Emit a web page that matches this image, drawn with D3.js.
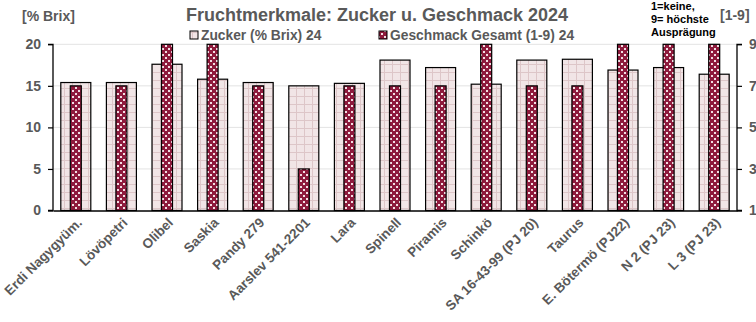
<!DOCTYPE html>
<html><head><meta charset="utf-8">
<script src="https://cdn.jsdelivr.net/npm/d3@7"></script>
<style>body{margin:0;background:#fff}svg{display:block;font-family:"Liberation Sans",Arial,sans-serif}</style>
</head><body>
<svg id="c" width="756" height="322"></svg>
<script>
const categories = ["Erdi Nagygyüm.","Lövöpetri","Olibel","Saskia","Pandy 279","Aarslev 541-2201","Lara","Spinell","Piramis","Schinkö","SA 16-43-99 (PJ 20)","Taurus","E. Bötermö (PJ22)","N 2 (PJ 23)","L 3 (PJ 23)"];
const zucker = [15.4,15.4,17.6,15.8,15.4,15.0,15.3,18.1,17.2,15.2,18.1,18.2,16.9,17.2,16.4];
const geschmack = [7,7,9,9,7,3,7,7,7,9,7,7,9,9,9];
const leftTicks = [0,5,10,15,20];
const rightTicks = [1,3,5,7,9];
const seriesNames = ["Zucker (% Brix) 24","Geschmack Gesamt (1-9) 24"];

const svg = d3.select("#c");
const m = {l:53, r:737, t:44.3, b:210.5};
const gray = "#595959";

const defs = svg.append("defs");
const p1 = defs.append("pattern").attr("id","pz").attr("patternUnits","userSpaceOnUse").attr("width",8).attr("height",8);
p1.append("rect").attr("width",8).attr("height",8).attr("fill","#f1e5e6");
p1.append("path").attr("d","M0,0.5H8M0.5,0V8").attr("stroke","#ddc6c8").attr("stroke-width",1);
const p2 = defs.append("pattern").attr("id","pg").attr("patternUnits","userSpaceOnUse").attr("width",6).attr("height",6);
p2.append("rect").attr("width",6).attr("height",6).attr("fill","#8e1a3c");
p2.append("rect").attr("x",0).attr("y",0).attr("width",2).attr("height",2).attr("fill","#f3dfe4");
p2.append("rect").attr("x",3).attr("y",3).attr("width",2).attr("height",2).attr("fill","#f3dfe4");

const x = d3.scaleBand().domain(categories).range([m.l, m.r]).paddingInner(0).paddingOuter(0);
const yL = d3.scaleLinear().domain([0,20]).range([m.b, m.t]);
const yR = d3.scaleLinear().domain([1,9]).range([m.b, m.t]);

// gridlines
svg.append("g").selectAll("line").data(leftTicks.filter(d=>d>0)).join("line")
  .attr("x1",m.l).attr("x2",m.r).attr("y1",d=>yL(d)).attr("y2",d=>yL(d))
  .attr("stroke","#e3e3e3").attr("stroke-width",1);

const bw = x.bandwidth();
const zw = 30, gw = 11;
svg.append("g").selectAll("rect").data(categories).join("rect")
  .attr("x",(d)=>x(d)+bw/2-zw/2).attr("width",zw)
  .attr("y",(d,i)=>yL(zucker[i])).attr("height",(d,i)=>m.b-yL(zucker[i]))
  .attr("fill","url(#pz)").attr("stroke","#000").attr("stroke-width",1.2);
svg.append("g").selectAll("rect").data(categories).join("rect")
  .attr("x",(d)=>x(d)+bw/2-gw/2).attr("width",gw)
  .attr("y",(d,i)=>yR(geschmack[i])).attr("height",(d,i)=>m.b-yR(geschmack[i]))
  .attr("fill","url(#pg)").attr("stroke","#000").attr("stroke-width",1.2);

// axes
const gl = svg.append("g").attr("transform",`translate(${m.l},0)`)
  .call(d3.axisLeft(yL).tickValues(leftTicks).tickSize(5).tickPadding(7));
const gr = svg.append("g").attr("transform",`translate(${m.r},0)`)
  .call(d3.axisRight(yR).tickValues(rightTicks).tickSize(5).tickPadding(7));
[gl,gr].forEach(g=>{
  g.select(".domain").attr("stroke","#000").attr("stroke-width",1.3);
  g.selectAll(".tick line").attr("stroke","#000").attr("stroke-width",1.2);
  g.selectAll(".tick text").attr("fill",gray).attr("font-size",14).attr("font-weight","bold")
   .attr("font-family","Liberation Sans, Arial, sans-serif");
});
gl.select(".domain").attr("d",`M-5,${m.t}H0V${m.b}H-5`);
gr.select(".domain").attr("d",`M5,${m.t}H0V${m.b}H5`);

const gx = svg.append("g").attr("transform",`translate(0,${m.b})`)
  .call(d3.axisBottom(x).tickSize(0).tickPadding(0));
gx.select(".domain").attr("stroke","#000").attr("stroke-width",1.5);
gx.selectAll(".tick text").attr("fill",gray).attr("font-size",13.5).attr("font-weight","bold")
  .attr("font-family","Liberation Sans, Arial, sans-serif")
  .attr("text-anchor","end").attr("dy",0)
  .attr("transform","translate(7,13) rotate(-45)");

// title
svg.append("text").attr("x",377).attr("y",21).attr("text-anchor","middle")
  .attr("font-size",18).attr("font-weight","bold").attr("fill",gray)
  .text("Fruchtmerkmale: Zucker u. Geschmack 2024");
svg.append("text").attr("x",22).attr("y",21).attr("font-size",14).attr("font-weight","bold").attr("fill",gray).text("[% Brix]");
svg.append("text").attr("x",720).attr("y",20).attr("font-size",14).attr("font-weight","bold").attr("fill",gray).text("[1-9]");
const note = svg.append("text").attr("font-size",11).attr("font-weight","bold").attr("fill","#000");
["1=keine,","9= höchste","Ausprägung"].forEach((t,i)=>note.append("tspan").attr("x",651).attr("y",10+i*13).text(t));

// legend
const leg = [{x:190,fill:"url(#pz)"},{x:379,fill:"url(#pg)"}];
leg.forEach((l,i)=>{
  svg.append("rect").attr("x",l.x).attr("y",31).attr("width",8).attr("height",8)
    .attr("fill",l.fill).attr("stroke","#000").attr("stroke-width",1);
  svg.append("text").attr("x",l.x+11).attr("y",40).attr("font-size",13.8).attr("font-weight","bold")
    .attr("fill",gray).text(seriesNames[i]);
});
</script>
</body></html>
